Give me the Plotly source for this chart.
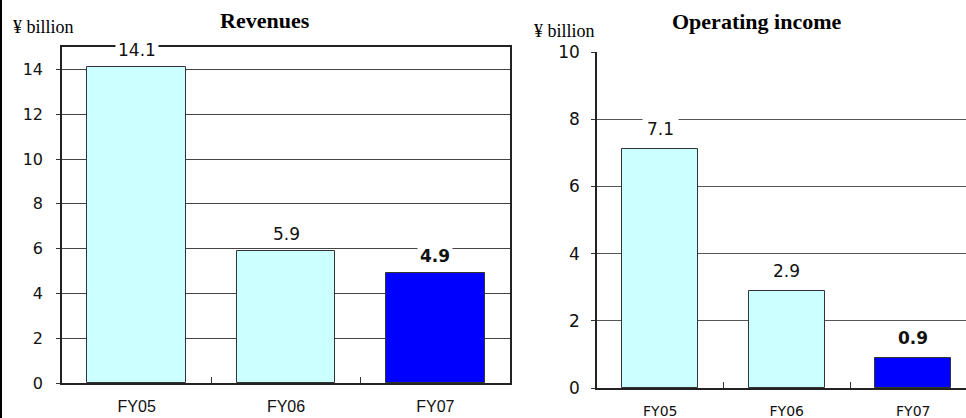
import plotly.graph_objects as go

categories = ["FY05", "FY06", "FY07"]
revenues = [14.1, 5.9, 4.9]
op_income = [7.1, 2.9, 0.9]
rev_labels = ["14.1", "5.9", "4.9"]
op_labels = ["7.1", "2.9", "0.9"]
rev_ticks = [0, 2, 4, 6, 8, 10, 12, 14]
op_ticks = [0, 2, 4, 6, 8, 10]

W, H = 966, 418
colors = ["#CCFFFF", "#CCFFFF", "#0000FF"]

fig = go.Figure()
fig.add_trace(go.Bar(x=categories, y=revenues, marker=dict(color=colors, line=dict(color="#333333", width=1)),
                     width=0.66, xaxis="x", yaxis="y", showlegend=False, hoverinfo="skip"))
fig.add_trace(go.Bar(x=categories, y=op_income, marker=dict(color=colors, line=dict(color="#333333", width=1)),
                     width=0.6, xaxis="x2", yaxis="y2", showlegend=False, hoverinfo="skip"))

ann = []
for i, (c, v, t) in enumerate(zip(categories, revenues, rev_labels)):
    ann.append(dict(x=c, y=v, xref="x", yref="y", text=("<b>%s</b>" % t) if i == 2 else t,
                    showarrow=False, yshift=17, yanchor="middle", xanchor="center", bgcolor="white",
                    borderpad=2, font=dict(family="DejaVu Sans", size=17, color="#111")))
for i, (c, v, t) in enumerate(zip(categories, op_income, op_labels)):
    ann.append(dict(x=c, y=v, xref="x2", yref="y2", text=("<b>%s</b>" % t) if i == 2 else t,
                    showarrow=False, yshift=20, yanchor="middle", xanchor="center", bgcolor="white",
                    borderpad=4, font=dict(family="DejaVu Sans", size=17, color="#111")))
ann += [
    dict(x=265 / W, y=1 - 21 / H, xref="paper", yref="paper", yanchor="middle", xanchor="center",
         text="<b>Revenues</b>", showarrow=False,
         font=dict(family="Liberation Serif", size=22, color="#000")),
    dict(x=43 / W, y=1 - 27 / H, xref="paper", yref="paper", yanchor="middle", xanchor="center",
         text="¥ billion", showarrow=False,
         font=dict(family="Liberation Serif", size=18, color="#000")),
    dict(x=756 / W, y=1 - 22 / H, xref="paper", yref="paper", yanchor="middle", xanchor="center",
         text="<b>Operating income</b>", showarrow=False,
         font=dict(family="Liberation Serif", size=22, color="#000")),
    dict(x=564 / W, y=1 - 31 / H, xref="paper", yref="paper", yanchor="middle", xanchor="center",
         text="¥ billion", showarrow=False,
         font=dict(family="Liberation Serif", size=18, color="#000")),
]

fig.update_layout(
    width=W, height=H, margin=dict(l=0, r=0, t=0, b=0, autoexpand=False),
    paper_bgcolor="white", plot_bgcolor="white", bargap=0,
    annotations=ann,
    xaxis=dict(domain=[62 / W, 510 / W], anchor="y", range=[-0.5, 2.5], showline=True, linecolor="#222",
               linewidth=1.5, mirror=True, ticks="inside", ticklen=6, tickcolor="#333", tickson="boundaries",
               showgrid=False, tickfont=dict(family="Liberation Sans", size=16, color="#111"),
               ticklabelstandoff=8, automargin=False),
    yaxis=dict(domain=[1 - 383 / H, 1 - 47 / H], anchor="x", range=[0, 15], tickvals=rev_ticks,
               showline=True, linecolor="#222", linewidth=1.5, mirror=True, ticks="outside", ticklen=4,
               tickcolor="#333", showgrid=True, gridcolor="#444", gridwidth=1, zeroline=False,
               tickfont=dict(family="DejaVu Sans", size=16, color="#111"), ticklabelstandoff=10,
               automargin=False),
    xaxis2=dict(domain=[597 / W, 1.0], anchor="y2", range=[-0.5, 2.417], showline=True, linecolor="#222",
                linewidth=1.5, ticks="inside", ticklen=6, tickcolor="#333", tickson="boundaries",
                showgrid=False, tickfont=dict(family="DejaVu Sans", size=14, color="#111"),
                ticklabelstandoff=9, automargin=False),
    yaxis2=dict(domain=[1 - 388 / H, 1 - 52 / H], anchor="x2", range=[0, 10], tickvals=op_ticks,
                showline=True, linecolor="#222", linewidth=1.5, ticks="outside", ticklen=4,
                tickcolor="#333", showgrid=True, gridcolor="#555", gridwidth=1, zeroline=False,
                tickfont=dict(family="DejaVu Sans", size=17, color="#111"), ticklabelstandoff=8,
                automargin=False),
    shapes=[dict(type="line", xref="paper", yref="paper", x0=1 / W, x1=1 / W, y0=0, y1=1,
                 line=dict(color="#000", width=2))],
)

fig.write_html("out.html")
